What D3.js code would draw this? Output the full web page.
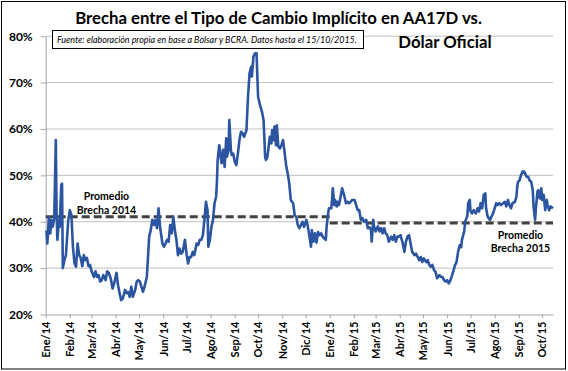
<!DOCTYPE html>
<html>
<head>
<meta charset="utf-8">
<script src="https://cdn.jsdelivr.net/npm/d3@7"></script>
<style>
  body { margin: 0; background: #fff; }
  svg { display: block; font-family: Lato, "Open Sans", sans-serif; }
</style>
</head>
<body>
<script>
// Brecha (%) entre el tipo de cambio implícito en AA17D y el dólar oficial
const brecha2014 = [
  ["02/01/14",38.1],["03/01/14",35.3],["04/01/14",37.5],["05/01/14",41.0],["07/01/14",37.5],["08/01/14",40.4],["10/01/14",38.9],["12/01/14",40.8],["14/01/14",57.6],["15/01/14",41.8],["16/01/14",36.1],["18/01/14",40.4],["19/01/14",38.9],["21/01/14",47.9],["22/01/14",48.2],["23/01/14",30.0],["25/01/14",31.7],["27/01/14",32.8],["30/01/14",40.4],
  ["01/02/14",42.5],["03/02/14",41.5],["05/02/14",34.6],["07/02/14",31.0],["09/02/14",30.3],["11/02/14",35.3],["13/02/14",32.8],["15/02/14",32.2],["17/02/14",30.4],["19/02/14",32.8],["21/02/14",31.7],["23/02/14",32.2],["25/02/14",30.4],["27/02/14",30.7],
  ["01/03/14",29.3],["04/03/14",28.1],["06/03/14",29.3],["08/03/14",28.1],["10/03/14",28.5],["12/03/14",27.1],["14/03/14",27.4],["16/03/14",28.5],["19/03/14",27.4],["21/03/14",29.3],["23/03/14",29.0],["25/03/14",28.1],["26/03/14",27.4],["28/03/14",25.6],["30/03/14",26.7],
  ["02/04/14",29.0],["04/04/14",26.3],["06/04/14",24.6],["08/04/14",23.1],["10/04/14",23.4],["13/04/14",25.3],["15/04/14",24.6],["17/04/14",24.8],["19/04/14",23.8],["21/04/14",26.0],["23/04/14",23.8],["26/04/14",25.3],["28/04/14",27.1],["30/04/14",27.4],
  ["02/05/14",27.1],["04/05/14",26.0],["06/05/14",24.9],["08/05/14",26.0],["11/05/14",28.1],["13/05/14",33.9],["14/05/14",36.8],["16/05/14",38.2],["18/05/14",40.4],["20/05/14",39.3],["22/05/14",40.4],["24/05/14",38.6],["26/05/14",42.9],["28/05/14",38.9],["31/05/14",35.3],
  ["02/06/14",34.6],["04/06/14",35.3],["06/06/14",36.1],["08/06/14",35.7],["10/06/14",39.3],["12/06/14",37.5],["14/06/14",41.1],["16/06/14",38.2],["18/06/14",36.1],["20/06/14",32.8],["22/06/14",34.2],["24/06/14",33.1],["26/06/14",33.5],["29/06/14",36.1],
  ["01/07/14",33.1],["03/07/14",31.0],["05/07/14",32.4],["07/07/14",32.4],["09/07/14",33.5],["11/07/14",32.8],["14/07/14",35.3],["16/07/14",35.0],["18/07/14",36.1],["20/07/14",36.1],["22/07/14",37.1],["24/07/14",40.4],["26/07/14",44.3],["28/07/14",42.5],["29/07/14",34.6],["31/07/14",36.1],
  ["02/08/14",38.9],["04/08/14",40.4],["06/08/14",44.0],["08/08/14",45.4],["09/08/14",48.3],["10/08/14",53.3],["12/08/14",56.5],["15/08/14",52.6],["17/08/14",55.5],["19/08/14",51.8],["21/08/14",58.0],["22/08/14",54.0],["24/08/14",55.5],["25/08/14",61.9],["27/08/14",55.5],["28/08/14",54.4],["30/08/14",54.7],
  ["01/09/14",52.9],["03/09/14",52.2],["05/09/14",54.7],["07/09/14",57.6],["09/09/14",59.4],["11/09/14",59.1],["13/09/14",58.3],["16/09/14",59.7],["18/09/14",66.9],["20/09/14",72.0],["22/09/14",73.4],["23/09/14",71.3],["25/09/14",75.6],["27/09/14",76.3],["29/09/14",76.3],["30/09/14",71.3],
  ["01/10/14",66.9],["02/10/14",66.2],["04/10/14",64.8],["06/10/14",63.7],["08/10/14",61.9],["09/10/14",58.3],["10/10/14",54.0],["11/10/14",53.3],["13/10/14",54.0],["16/10/14",58.3],["18/10/14",56.9],["19/10/14",59.7],["21/10/14",57.6],["22/10/14",60.5],["24/10/14",56.5],["25/10/14",60.8],["27/10/14",56.2],["29/10/14",55.8],["31/10/14",56.5],
  ["02/11/14",57.6],["04/11/14",55.0],["06/11/14",52.2],["08/11/14",50.4],["10/11/14",48.3],["12/11/14",44.7],["15/11/14",44.0],["17/11/14",41.4],["19/11/14",41.1],["21/11/14",39.3],["23/11/14",38.6],["25/11/14",39.3],["27/11/14",40.0],["29/11/14",38.9],
  ["02/12/14",40.4],["04/12/14",38.9],["06/12/14",36.8],["08/12/14",34.6],["09/12/14",38.2],["11/12/14",35.7],["13/12/14",37.5],["15/12/14",35.5],["17/12/14",37.8],["19/12/14",37.1],["21/12/14",37.5],["23/12/14",36.8],["25/12/14",36.4],["27/12/14",36.1],["28/12/14",38.9],["30/12/14",41.8],["31/12/14",42.9]
];

const brecha2015 = [
  ["03/01/15",42.9],["04/01/15",44.7],["05/01/15",47.2],["07/01/15",43.6],["08/01/15",44.7],["10/01/15",43.3],["11/01/15",44.3],["13/01/15",43.6],["15/01/15",45.4],["17/01/15",47.2],["20/01/15",45.4],["22/01/15",44.0],["24/01/15",44.3],["26/01/15",44.0],["28/01/15",44.3],["30/01/15",44.7],
  ["02/02/15",44.7],["04/02/15",43.6],["06/02/15",42.5],["08/02/15",42.5],["10/02/15",40.4],["12/02/15",40.8],["14/02/15",40.0],["17/02/15",40.4],["19/02/15",38.6],["21/02/15",38.8],["23/02/15",38.3],["24/02/15",35.7],["26/02/15",40.4],["27/02/15",39.0],
  ["01/03/15",37.9],["04/03/15",39.0],["06/03/15",37.9],["08/03/15",38.6],["10/03/15",37.5],["12/03/15",38.6],["14/03/15",37.5],["16/03/15",37.1],["18/03/15",35.7],["21/03/15",36.8],["23/03/15",36.1],["25/03/15",37.1],["27/03/15",35.7],["29/03/15",36.8],["31/03/15",36.8],
  ["02/04/15",37.1],["05/04/15",35.3],["07/04/15",33.5],["09/04/15",35.7],["11/04/15",36.8],["13/04/15",37.1],["15/04/15",35.3],["17/04/15",33.5],["20/04/15",32.8],["22/04/15",33.1],["24/04/15",32.4],["26/04/15",31.7],["28/04/15",32.4],["30/04/15",31.3],
  ["02/05/15",32.1],["05/05/15",31.3],["07/05/15",31.7],["09/05/15",30.7],["11/05/15",30.3],["13/05/15",30.7],["15/05/15",29.6],["17/05/15",29.2],["19/05/15",27.8],["22/05/15",28.5],["24/05/15",28.1],["26/05/15",28.1],["28/05/15",27.4],["30/05/15",27.1],
  ["01/06/15",27.4],["03/06/15",26.7],["05/06/15",27.3],["08/06/15",28.8],["11/06/15",30.6],["13/06/15",31.3],["15/06/15",33.5],["17/06/15",34.9],["19/06/15",34.5],["20/06/15",36.1],["23/06/15",38.0],["24/06/15",40.0],["26/06/15",40.8],["27/06/15",41.5],["28/06/15",44.0],["30/06/15",44.7],
  ["01/07/15",42.2],["03/07/15",41.8],["05/07/15",42.5],["08/07/15",41.8],["10/07/15",42.9],["12/07/15",42.2],["14/07/15",44.0],["16/07/15",42.9],["18/07/15",45.8],["20/07/15",46.1],["21/07/15",42.9],["23/07/15",41.1],["26/07/15",40.4],["28/07/15",41.1],["30/07/15",41.8],
  ["01/08/15",42.9],["03/08/15",44.0],["05/08/15",43.6],["07/08/15",44.0],["09/08/15",43.6],["12/08/15",44.0],["14/08/15",44.3],["16/08/15",43.3],["18/08/15",44.7],["20/08/15",43.6],["22/08/15",42.9],["24/08/15",44.0],["27/08/15",44.3],["29/08/15",45.4],["30/08/15",47.5],["31/08/15",48.6],
  ["02/09/15",48.9],["04/09/15",50.1],["06/09/15",50.8],["08/09/15",50.8],["11/09/15",49.7],["13/09/15",49.7],["15/09/15",48.9],["17/09/15",48.6],["19/09/15",46.8],["20/09/15",43.3],["22/09/15",40.4],["23/09/15",42.9],["25/09/15",46.5],["26/09/15",46.8],["28/09/15",45.0],["30/09/15",47.2],
  ["01/10/15",44.7],["03/10/15",45.8],["05/10/15",42.5],["07/10/15",44.7],["08/10/15",43.6],["10/10/15",42.5],["12/10/15",43.3],["15/10/15",42.9]
];

// Promedio anual de la brecha
const promedioFechas = [["01/01/14", "01/01/15"], ["01/01/15", "15/10/15"]];
const promedioValores = [41.1, 39.7];
const promedioEtiquetas = [["Promedio", "Brecha 2014"], ["Promedio", "Brecha 2015"]];

const meses = ["Ene", "Feb", "Mar", "Abr", "May", "Jun", "Jul", "Ago", "Sep", "Oct", "Nov", "Dic"];
const yTicks = [20, 30, 40, 50, 60, 70, 80];
const titulo = ["Brecha entre el Tipo de Cambio Implícito en AA17D vs.", "Dólar Oficial"];
const fuente = "Fuente: elaboración propia en base a Bolsar y BCRA. Datos hasta el 15/10/2015.";

const width = 568;
const height = 371;
const plot = { left: 45.7, right: 553, top: 36.2, bottom: 314.5 };

const parse = d3.timeParse("%d/%m/%y");
const serie = brecha2014.concat(brecha2015).map(d => ({ fecha: parse(d[0]), valor: d[1] }));

const svg = d3.select("body")
    .append("svg")
    .attr("width", width)
    .attr("height", height);

// Marco del gráfico
svg.append("rect")
    .attr("x", 1.5).attr("y", 1.5)
    .attr("width", 564).attr("height", 367.5)
    .attr("fill", "#fff")
    .attr("stroke", "#000");

// Escalas
const x = d3.scaleTime()
    .domain([parse("01/01/14"), parse("15/10/15")])
    .range([plot.left, plot.right]);

const y = d3.scaleLinear()
    .domain([20, 80])
    .range([plot.bottom, plot.top]);

// Grilla horizontal
svg.append("g")
    .selectAll("line")
    .data(yTicks.slice(1))
    .join("line")
    .attr("x1", plot.left).attr("x2", plot.right)
    .attr("y1", d => y(d)).attr("y2", d => y(d))
    .attr("stroke", "#bfbfbf");

// Eje Y
const yAxis = svg.append("g")
    .attr("transform", `translate(${plot.left},0)`)
    .call(d3.axisLeft(y).tickValues(yTicks).tickFormat(d => d + "%").tickSize(5).tickPadding(8).tickSizeOuter(0));
yAxis.select(".domain").attr("stroke", "#a6a6a6");
yAxis.selectAll(".tick line").attr("stroke", "#a6a6a6");
yAxis.selectAll("text")
    .attr("font-family", "Lato, sans-serif")
    .attr("font-size", 12)
    .attr("font-weight", "bold")
    .attr("fill", "#000");

// Eje X
const mesesTicks = d3.timeMonth.range(parse("01/01/14"), parse("02/10/15"));
const xAxis = svg.append("g")
    .attr("transform", `translate(0,${plot.bottom})`)
    .call(d3.axisBottom(x).tickValues(mesesTicks)
        .tickFormat(d => meses[d.getMonth()] + "/" + d3.timeFormat("%y")(d))
        .tickSize(4).tickSizeOuter(0));
xAxis.select(".domain").attr("stroke", "#a6a6a6");
xAxis.selectAll(".tick line").attr("stroke", "#a6a6a6");
xAxis.selectAll("text")
    .attr("transform", "rotate(-90)")
    .attr("text-anchor", "end")
    .attr("x", -7)
    .attr("y", 0)
    .attr("dy", "0.35em")
    .attr("font-family", "Lato, sans-serif")
    .attr("font-size", 11)
    .attr("font-weight", "bold")
    .attr("fill", "#000");

// Líneas de promedio
svg.append("g")
    .selectAll("line")
    .data(promedioValores)
    .join("line")
    .attr("x1", (d, i) => x(parse(promedioFechas[i][0])))
    .attr("x2", (d, i) => x(parse(promedioFechas[i][1])))
    .attr("y1", d => y(d)).attr("y2", d => y(d))
    .attr("stroke", "#404040")
    .attr("stroke-width", 3)
    .attr("stroke-dasharray", "8,4");

// Serie
const line = d3.line()
    .x(d => x(d.fecha))
    .y(d => y(d.valor));

svg.append("path")
    .datum(serie)
    .attr("fill", "none")
    .attr("stroke", "#2b55a1")
    .attr("stroke-width", 2.6)
    .attr("stroke-linejoin", "round")
    .attr("d", line);

// Etiquetas de promedio
const etiquetaPos = [{ x: 106.5, dy: [-17, -3] }, { x: 520.5, dy: [15.5, 29] }];
promedioEtiquetas.forEach((lineas, i) => {
    const t = svg.append("text")
        .attr("text-anchor", "middle")
        .attr("font-size", 10.5)
        .attr("font-weight", "bold")
        .attr("fill", "#000");
    lineas.forEach((s, j) => {
        t.append("tspan")
            .attr("x", etiquetaPos[i].x)
            .attr("y", y(promedioValores[i]) + etiquetaPos[i].dy[j])
            .text(s);
    });
});

// Cuadro de fuente
svg.append("rect")
    .attr("x", 52.5).attr("y", 30.5)
    .attr("width", 311).attr("height", 18)
    .attr("fill", "#fff")
    .attr("stroke", "#000");

const nota = svg.append("text")
    .attr("x", 57).attr("y", 42.5)
    .attr("font-size", 8)
    .attr("font-style", "italic")
    .text(fuente);
nota.attr("font-size", 8 * 300 / nota.node().getComputedTextLength());

// Título
const t1 = svg.append("text")
    .attr("x", 278.5).attr("y", 24)
    .attr("text-anchor", "middle")
    .attr("font-size", 18)
    .attr("font-weight", "bold")
    .text(titulo[0]);
const fs = 18 * 407 / t1.node().getComputedTextLength();
t1.attr("font-size", fs);

svg.append("text")
    .attr("x", 445).attr("y", 48)
    .attr("text-anchor", "middle")
    .attr("font-size", fs)
    .attr("font-weight", "bold")
    .text(titulo[1]);
</script>
</body>
</html>
